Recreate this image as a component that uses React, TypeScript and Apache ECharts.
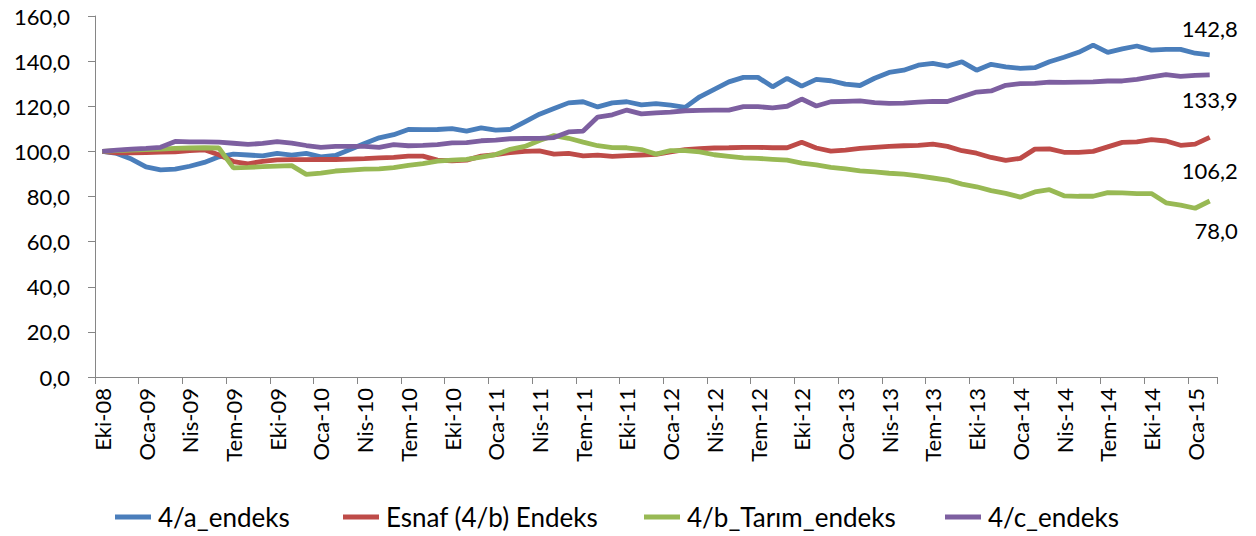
import React, { useEffect, useRef } from "react";
import * as echarts from "echarts";

const monthNames = ["Oca", "Şub", "Mar", "Nis", "May", "Haz", "Tem", "Ağu", "Eyl", "Eki", "Kas", "Ara"];
const startYear = 2008;
const startMonth = 9; // Eki
const monthCount = 77; // Eki-08 .. Şub-15

const categories: string[] = [];
for (let k = 0; k < monthCount; k++) {
  const m = (startMonth + k) % 12;
  const y = startYear + Math.floor((startMonth + k) / 12);
  categories.push(`${monthNames[m]}-${String(y % 100).padStart(2, "0")}`);
}

const seriesNames = ["4/a_endeks", "Esnaf (4/b) Endeks", "4/b_Tarım_endeks", "4/c_endeks"];

const endeks4a = [
  100, 99.1, 96.6, 93.1, 91.8, 92.1, 93.4, 95.1, 97.6, 98.8,
  98.4, 98.0, 99.1, 98.3, 99.1, 97.6, 98.2, 100.8, 103.5, 106.0,
  107.4, 109.7, 109.6, 109.7, 110.1, 109.0, 110.4, 109.4, 109.7, 113.1,
  116.5, 119.0, 121.5, 122.0, 119.7, 121.5, 122.0, 120.6, 121.2, 120.5,
  119.5, 124.2, 127.5, 130.8, 132.8, 132.8, 128.6, 132.4, 128.9, 131.9,
  131.3, 129.8, 129.2, 132.4, 135.0, 136.0, 138.2, 139.0, 137.8, 139.7,
  136.0, 138.6, 137.5, 136.8, 137.1, 139.7, 141.7, 143.9, 147.1, 143.9,
  145.4, 146.7, 144.9, 145.2, 145.2, 143.5, 142.8,
];

const esnaf4b = [
  100, 99.3, 99.3, 99.5, 99.7, 99.8, 100.3, 100.7, 98.5, 95.5,
  94.5, 95.6, 96.2, 96.3, 96.3, 96.4, 96.4, 96.6, 96.8, 97.1,
  97.3, 97.9, 97.9, 96.1, 95.8, 96.1, 97.9, 98.6, 99.5, 100.0,
  100.2, 98.8, 99.1, 98.0, 98.3, 97.8, 98.1, 98.4, 98.7, 99.8,
  100.8, 101.2, 101.5, 101.6, 101.8, 101.8, 101.6, 101.6, 104.0, 101.5,
  100.1, 100.6, 101.3, 101.8, 102.2, 102.5, 102.7, 103.2, 102.2, 100.3,
  99.2, 97.3, 96.0, 96.9, 101.0, 101.1, 99.6, 99.6, 100.0, 102.0,
  104.0, 104.2, 105.2, 104.6, 102.7, 103.2, 106.2,
];

const tarim4b = [
  100, 100.3, 100.6, 100.8, 101.0, 101.3, 101.5, 101.6, 101.5, 92.7,
  92.9, 93.2, 93.5, 93.7, 89.8, 90.4, 91.3, 91.7, 92.1, 92.2,
  92.8, 93.8, 94.6, 95.7, 96.1, 96.5, 97.5, 98.6, 100.9, 102.2,
  104.8, 107.0, 105.8, 104.1, 102.5, 101.7, 101.6, 100.8, 98.8, 100.3,
  100.3, 99.8, 98.5, 97.8, 97.1, 96.9, 96.5, 96.1, 94.8, 94.0,
  92.9, 92.2, 91.4, 90.9, 90.3, 89.9, 89.1, 88.2, 87.3, 85.5,
  84.3, 82.6, 81.4, 79.7, 82.0, 83.0, 80.3, 80.1, 80.1, 81.7,
  81.6, 81.3, 81.3, 77.2, 76.2, 74.8, 78.0,
];

const endeks4c = [
  100, 100.6, 101.0, 101.3, 101.8, 104.4, 104.2, 104.2, 104.1, 103.6,
  103.1, 103.5, 104.3, 103.7, 102.6, 101.8, 102.2, 102.2, 102.2, 101.8,
  103.0, 102.5, 102.7, 103.0, 103.8, 103.9, 104.7, 105.0, 105.6, 105.7,
  105.8, 106.1, 108.6, 109.0, 115.2, 116.2, 118.3, 116.6, 117.1, 117.4,
  118.0, 118.2, 118.3, 118.3, 119.8, 119.8, 119.3, 120.0, 123.2, 120.1,
  122.0, 122.2, 122.4, 121.6, 121.3, 121.4, 121.8, 122.2, 122.1, 124.2,
  126.3, 126.8, 129.3, 130.0, 130.1, 130.7, 130.6, 130.7, 130.8, 131.2,
  131.2, 131.9, 133.0, 134.0, 133.2, 133.7, 133.9,
];

const seriesValues = [endeks4a, esnaf4b, tarim4b, endeks4c];
const seriesColors = ["#4A7EBB", "#BE4B48", "#98B954", "#7D5FA0"];
// order: 4/a (blue), Esnaf (red), Tarım (green), 4/c (purple)
const endLabelOffsets: [number, number][] = [[28, -26], [28, 33], [28, 29], [28, 25]];
const legendLefts = [115, 343, 644, 945];

const yMin = 0;
const yMax = 160;
const yInterval = 20;

const FONT = "Lato, 'Open Sans', sans-serif";
const fmt = (v: number) => v.toFixed(1).replace(".", ",");

export default function App() {
  const ref = useRef<HTMLDivElement>(null);

  useEffect(() => {
    if (!ref.current) return;
    const chart = echarts.init(ref.current, undefined, { renderer: "svg" });
    const last = categories.length - 1;

    chart.setOption({
      animation: false,
      backgroundColor: "#ffffff",
      textStyle: { fontFamily: FONT },
      grid: { left: 95, right: 39, top: 16, bottom: 159, containLabel: false, outerBoundsMode: "none" },
      xAxis: {
        type: "category",
        data: categories,
        boundaryGap: true,
        axisLine: { lineStyle: { color: "#868686", width: 1 } },
        axisTick: { show: true, interval: 2, length: 7, lineStyle: { color: "#868686" } },
        axisLabel: {
          interval: 2,
          rotate: 90,
          margin: 11,
          fontSize: 22,
          color: "#000",
          fontFamily: FONT,
        },
        splitLine: { show: false },
      },
      yAxis: {
        type: "value",
        min: yMin,
        max: yMax,
        interval: yInterval,
        axisLine: { show: true, lineStyle: { color: "#868686", width: 1 } },
        axisTick: { show: true, length: 7, lineStyle: { color: "#868686" } },
        axisLabel: { formatter: (v: number) => fmt(v), fontSize: 22, color: "#000", margin: 25, fontFamily: FONT },
        splitLine: { show: false },
      },
      legend: seriesNames.map((name, i) => ({
        data: [name],
        left: legendLefts[i],
        top: 504,
        padding: 0,
        icon: "rect",
        itemWidth: 36,
        itemHeight: 5,
        itemGap: 0,
        textStyle: { fontSize: 26, color: "#000", fontFamily: FONT, padding: [0, 0, 0, 2] },
        selectedMode: false,
      })),
      series: seriesNames.map((name, i) => ({
        name,
        type: "line",
        data: seriesValues[i],
        symbol: "none",
        smooth: false,
        lineStyle: { color: seriesColors[i], width: 4.8 },
        itemStyle: { color: seriesColors[i] },
        markPoint: {
          symbol: "circle",
          symbolSize: 0,
          silent: true,
          label: {
            show: true,
            position: "inside",
            align: "right",
            verticalAlign: "middle",
            offset: endLabelOffsets[i],
            fontSize: 22,
            color: "#000",
            fontFamily: FONT,
            formatter: (p: any) => fmt(p.value),
          },
          data: [{ coord: [categories[last], seriesValues[i][last]], value: seriesValues[i][last] }],
        },
      })),
    });

    return () => chart.dispose();
  }, []);

  return (
    <div
      ref={ref}
      style={{ position: "absolute", left: 0, top: 0, width: 1256, height: 536, background: "#fff" }}
    />
  );
}
